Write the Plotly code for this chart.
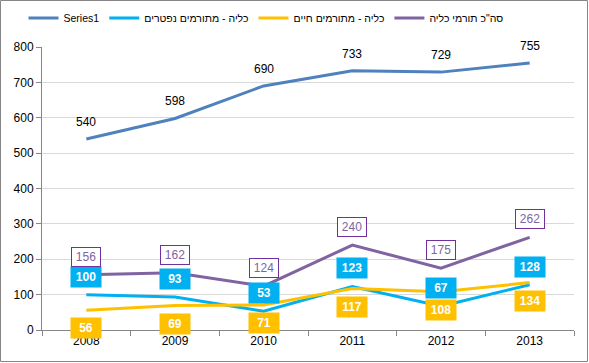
import plotly.graph_objects as go

years = ["2008", "2009", "2010", "2011", "2012", "2013"]
series1 = [540, 598, 690, 733, 729, 755]
deceased = [100, 93, 53, 123, 67, 128]
living = [56, 69, 71, 117, 108, 134]
total = [156, 162, 124, 240, 175, 262]

names = ["Series1", "כליה - מתורמים נפטרים", "כליה - מתורמים חיים", 'סה"כ תורמי כליה']
colors = ["#4F81BD", "#00B0F0", "#FFC000", "#8064A2"]
y_ticks = list(range(0, 801, 100))

FONT = "Liberation Sans"
W, H = 589, 363
ML, MR, MT, MB = 42, 15, 47, 33

fig = go.Figure()
for name, vals, col in zip(names, [series1, deceased, living, total], colors):
    fig.add_trace(go.Scatter(x=years, y=vals, name=name, mode="lines",
                             line=dict(color=col, width=3), hoverinfo="skip"))

ann = []
for i, v in enumerate(series1):
    ann.append(dict(x=i, y=v, xref="x", yref="y", text=str(v), showarrow=False,
                    yshift=17, font=dict(family=FONT, size=12, color="black")))
for i, v in enumerate(deceased):
    ann.append(dict(x=i, y=v, xref="x", yref="y", text="<b>%d</b>" % v, showarrow=False,
                    yshift=18, bgcolor="#00B0F0", borderpad=3, width=24,
                    font=dict(family=FONT, size=12, color="white")))
for i, v in enumerate(living):
    ann.append(dict(x=i, y=v, xref="x", yref="y", text="<b>%d</b>" % v, showarrow=False,
                    yshift=-18, bgcolor="#FFC000", borderpad=3, width=24,
                    font=dict(family=FONT, size=12, color="white")))
for i, v in enumerate(total):
    ann.append(dict(x=i, y=v, xref="x", yref="y", text=str(v), showarrow=False,
                    yshift=18, bgcolor="white", bordercolor="#7030A0", borderwidth=1,
                    borderpad=2, width=24,
                    font=dict(family=FONT, size=12, color="#8064A2")))

pw = W - ML - MR
ph = H - MT - MB
fig.update_layout(
    width=W, height=H,
    margin=dict(l=ML, r=MR, t=MT, b=MB, autoexpand=False),
    paper_bgcolor="white", plot_bgcolor="white",
    font=dict(family=FONT, size=12, color="black"),
    showlegend=True,
    legend=dict(orientation="h", x=(266 - ML) / pw, xanchor="center",
                y=1 - 18 / H, yanchor="middle", yref="container",
                font=dict(family=FONT, size=10.5, color="black"),
                itemwidth=30, tracegroupgap=0),
    annotations=ann,
    xaxis=dict(type="category", range=[-0.5, len(years) - 0.5],
               showgrid=False, showline=True, linecolor="#868686",
               linewidth=1, ticks="outside", tickson="boundaries", ticklen=5,
               tickcolor="#868686", tickfont=dict(size=12), zeroline=False),
    yaxis=dict(range=[0, 800], tickvals=y_ticks, showgrid=True, gridcolor="#D9D9D9",
               showline=True, linecolor="#868686", linewidth=1, ticks="outside",
               ticklen=5, tickcolor="#868686", zeroline=False, tickfont=dict(size=12)),
    shapes=[dict(type="rect", xref="paper", yref="paper",
                 x0=(0.5 - ML) / pw, x1=(W - 1.5 - ML) / pw,
                 y0=-(H - 1.5 - (H - MB)) / ph, y1=(H - 0.5 - MB) / ph,
                 line=dict(color="#868686", width=1))],
)
fig.write_html("out.html", config={"displayModeBar": False},
               post_script="document.body.style.margin='0';document.body.style.overflow='hidden';")
